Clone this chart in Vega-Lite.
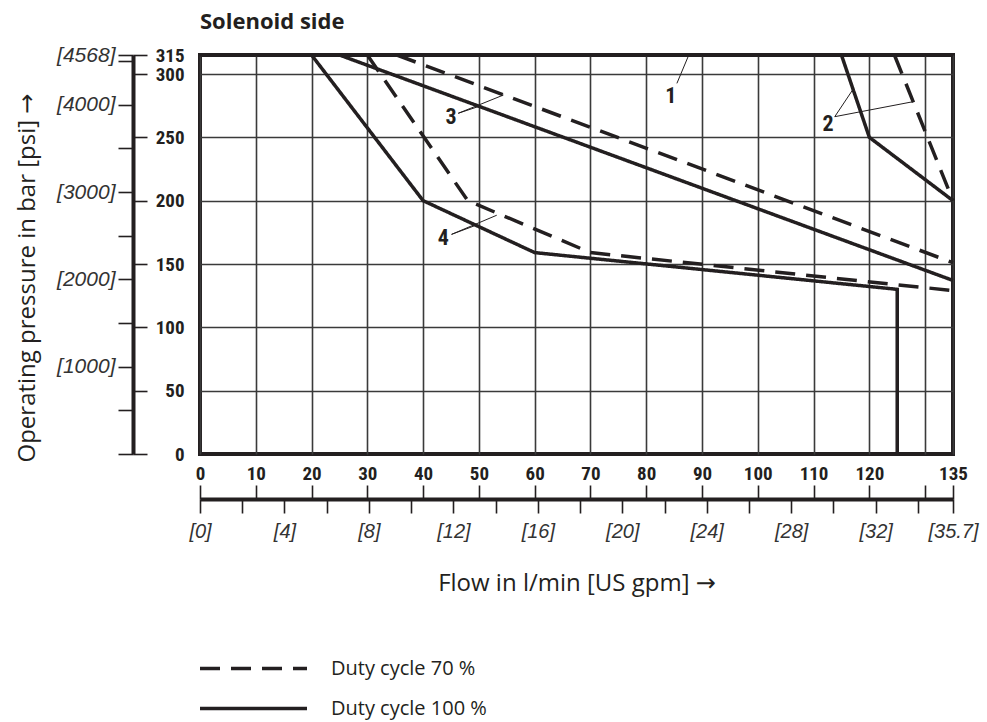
{
  "$schema": "https://vega.github.io/schema/vega-lite/v6.json",
  "width": 753,
  "height": 399,
  "autosize": "none",
  "padding": {"left": 200, "top": 55, "right": 34, "bottom": 268},
  "background": "white",
  "title": {"text": "Solenoid side", "anchor": "start", "frame": "group", "offset": 10, "font": "Open Sans", "fontSize": 22, "fontWeight": "bold", "color": "#231f20"},
  "config": {
    "view": {"stroke": "#231f20", "strokeWidth": 4},
    "axis": {"labelColor": "#231f20", "tickColor": "#231f20", "domainColor": "#231f20", "gridColor": "#3a3a3a", "gridOpacity": 1, "labelFlush": false, "labelOverlap": false, "labelBound": false}
  },
  "datasets": {
    "curves": [
      {"series": "1", "duty": "Duty cycle 100 %", "ord": 1, "flow": 0, "bar": 315},
      {"series": "1", "duty": "Duty cycle 100 %", "ord": 2, "flow": 135, "bar": 315},
      {"series": "2s", "duty": "Duty cycle 100 %", "ord": 1, "flow": 115, "bar": 315},
      {"series": "2s", "duty": "Duty cycle 100 %", "ord": 2, "flow": 120, "bar": 250},
      {"series": "2s", "duty": "Duty cycle 100 %", "ord": 3, "flow": 135, "bar": 200},
      {"series": "2d", "duty": "Duty cycle 70 %", "ord": 1, "flow": 124.5, "bar": 315},
      {"series": "2d", "duty": "Duty cycle 70 %", "ord": 2, "flow": 135, "bar": 200},
      {"series": "3s", "duty": "Duty cycle 100 %", "ord": 1, "flow": 25, "bar": 315},
      {"series": "3s", "duty": "Duty cycle 100 %", "ord": 2, "flow": 135, "bar": 137},
      {"series": "3d", "duty": "Duty cycle 70 %", "ord": 1, "flow": 35.3, "bar": 315},
      {"series": "3d", "duty": "Duty cycle 70 %", "ord": 2, "flow": 135, "bar": 151},
      {"series": "4s", "duty": "Duty cycle 100 %", "ord": 1, "flow": 20, "bar": 315},
      {"series": "4s", "duty": "Duty cycle 100 %", "ord": 2, "flow": 40, "bar": 200},
      {"series": "4s", "duty": "Duty cycle 100 %", "ord": 3, "flow": 60, "bar": 159},
      {"series": "4s", "duty": "Duty cycle 100 %", "ord": 4, "flow": 125, "bar": 130},
      {"series": "4s", "duty": "Duty cycle 100 %", "ord": 5, "flow": 125, "bar": 0},
      {"series": "4d", "duty": "Duty cycle 70 %", "ord": 1, "flow": 30, "bar": 315},
      {"series": "4d", "duty": "Duty cycle 70 %", "ord": 2, "flow": 48, "bar": 200},
      {"series": "4d", "duty": "Duty cycle 70 %", "ord": 3, "flow": 70, "bar": 159},
      {"series": "4d", "duty": "Duty cycle 70 %", "ord": 4, "flow": 135, "bar": 129}
    ],
    "leaders": [
      {"x1": 85.5, "y1": 292.6, "x2": 87.5, "y2": 313.6},
      {"x1": 113.8, "y1": 266.3, "x2": 117.0, "y2": 287.4},
      {"x1": 113.8, "y1": 266.3, "x2": 127.8, "y2": 278.1},
      {"x1": 46.3, "y1": 269, "x2": 50.4, "y2": 275},
      {"x1": 46.3, "y1": 269, "x2": 54.4, "y2": 283.4},
      {"x1": 45.1, "y1": 173.4, "x2": 49.6, "y2": 180.8},
      {"x1": 45.1, "y1": 173.4, "x2": 53.2, "y2": 188.5}
    ],
    "labels": [
      {"label": "1", "flow": 84.4, "bar": 282.6},
      {"label": "2", "flow": 112.6, "bar": 260.5},
      {"label": "3", "flow": 45, "bar": 265.7},
      {"label": "4", "flow": 43.6, "bar": 170.5}
    ]
  },
  "resolve": {"axis": {"x": "independent", "y": "independent"}, "scale": {"strokeDash": "independent"}, "legend": {"strokeDash": "independent"}},
  "layer": [
    {
      "data": {"name": "curves"},
      "transform": [{"filter": "datum.duty == 'Duty cycle 70 %'"}],
      "mark": {"type": "line", "strokeWidth": 3.5, "color": "#231f20", "strokeCap": "butt", "strokeJoin": "miter"},
      "encoding": {
        "x": {"field": "flow", "type": "quantitative", "scale": {"domain": [0, 135], "nice": false, "zero": false},
          "axis": {"orient": "bottom", "offset": 0, "values": [0, 10, 20, 30, 40, 50, 60, 70, 80, 90, 100, 110, 120, 130, 135], "grid": true, "gridWidth": 1.6, "ticks": false, "domain": false, "labelFont": "Roboto Condensed, Roboto, sans-serif", "labelFontWeight": "bold", "labelFontSize": 19, "labelPadding": 10, "labelExpr": "datum.value == 130 ? '' : datum.label", "title": null}},
        "y": {"field": "bar", "type": "quantitative", "scale": {"domain": [0, 315], "nice": false, "zero": false},
          "axis": {"orient": "left", "offset": 0, "values": [50, 100, 150, 200, 250, 300], "grid": true, "gridWidth": 1.6, "ticks": false, "domain": false, "labels": false, "title": null}},
        "strokeDash": {"field": "duty", "type": "nominal",
          "scale": {"domain": ["Duty cycle 70 %"], "range": [[20, 11]]},
          "legend": {"orient": "none", "legendX": -2, "legendY": 558, "title": null, "symbolType": "stroke", "symbolSize": 11449, "symbolStrokeWidth": 3.5, "symbolStrokeColor": "#231f20", "labelFont": "Open Sans", "labelFontSize": 20, "labelColor": "#231f20", "labelOffset": 22, "direction": "vertical"}},
        "detail": {"field": "series"},
        "order": {"field": "ord"}
      }
    },
    {
      "data": {"name": "curves"},
      "transform": [{"filter": "datum.duty == 'Duty cycle 100 %'"}],
      "mark": {"type": "line", "strokeWidth": 3.5, "color": "#231f20", "strokeCap": "butt", "strokeJoin": "miter"},
      "encoding": {
        "x": {"field": "flow", "type": "quantitative", "scale": {"domain": [0, 135], "nice": false, "zero": false}, "axis": null},
        "y": {"field": "bar", "type": "quantitative", "scale": {"domain": [0, 315], "nice": false, "zero": false}, "axis": null},
        "strokeDash": {"field": "duty", "type": "nominal",
          "scale": {"domain": ["Duty cycle 100 %"], "range": [[1, 0]]},
          "legend": {"orient": "none", "legendX": -2, "legendY": 598, "title": null, "symbolType": "stroke", "symbolSize": 11449, "symbolStrokeWidth": 3.5, "symbolStrokeColor": "#231f20", "labelFont": "Open Sans", "labelFontSize": 20, "labelColor": "#231f20", "labelOffset": 22, "direction": "vertical"}},
        "detail": {"field": "series"},
        "order": {"field": "ord"}
      }
    },
    {
      "data": {"name": "leaders"},
      "mark": {"type": "rule", "strokeWidth": 1, "color": "#231f20"},
      "encoding": {
        "x": {"field": "x1", "type": "quantitative", "scale": {"domain": [0, 135], "nice": false, "zero": false},
          "axis": {"orient": "top", "offset": -444, "values": [0, 10, 20, 30, 40, 50, 60, 70, 80, 90, 100, 110, 120, 130, 135], "grid": false, "ticks": true, "tickSize": 14, "tickWidth": 1.6, "labels": false, "domain": true, "domainWidth": 4, "title": null}},
        "x2": {"field": "x2"},
        "y": {"field": "y1", "type": "quantitative", "scale": {"domain": [0, 315], "nice": false, "zero": false},
          "axis": {"orient": "left", "offset": 67, "values": [0, 34.474, 68.947, 103.421, 137.895, 172.369, 206.842, 241.316, 275.79, 310.264, 315], "grid": false, "ticks": true, "tickSize": 15, "tickWidth": 1.6, "domain": true, "domainWidth": 4, "labelFont": "Liberation Sans", "labelFontStyle": "italic", "labelFontSize": 21, "labelPadding": 3, "labelColor": "#333333", "labelExpr": "datum.value > 314 ? '[4568]' : (datum.value > 1 && abs(datum.value*14.5038/1000 - round(datum.value*14.5038/1000)) < 0.01 ? '[' + round(datum.value*14.5038) + ']' : '')",
            "title": "Operating pressure in bar [psi] →", "titleFont": "Open Sans, DejaVu Sans", "titleFontSize": 24, "titleFontWeight": "normal", "titleColor": "#231f20", "titlePadding": 17, "titleAnchor": "start", "titleAlign": "left", "titleY": 407}},
        "y2": {"field": "y2"}
      }
    },
    {
      "data": {"name": "labels"},
      "mark": {"type": "text", "font": "Roboto Condensed, Roboto, sans-serif", "fontWeight": "bold", "fontSize": 22, "color": "#231f20", "align": "center", "baseline": "middle"},
      "encoding": {
        "x": {"field": "flow", "type": "quantitative", "scale": {"domain": [0, 135], "nice": false, "zero": false},
          "axis": {"orient": "bottom", "offset": 45, "values": [0, 7.5708, 15.1416, 22.7125, 30.2833, 37.8541, 45.4249, 52.9957, 60.5666, 68.1374, 75.7082, 83.279, 90.8498, 98.4207, 105.9915, 113.5623, 121.1331, 128.7039, 135], "grid": false, "ticks": true, "tickSize": 14, "tickWidth": 1.6, "domain": false, "labelFont": "Liberation Sans", "labelFontStyle": "italic", "labelFontSize": 20, "labelPadding": 8, "labelColor": "#333333", "labelExpr": "datum.value > 134 ? '[35.7]' : (round(datum.value/3.78541) % 4 == 0 ? '[' + round(datum.value/3.78541) + ']' : '')",
            "title": "Flow in l/min [US gpm] →", "titleFont": "Open Sans, DejaVu Sans", "titleFontSize": 24, "titleFontWeight": "normal", "titleColor": "#231f20", "titlePadding": 30}},
        "y": {"field": "bar", "type": "quantitative", "scale": {"domain": [0, 315], "nice": false, "zero": false},
          "axis": {"orient": "right", "offset": -820, "values": [0, 50, 100, 150, 200, 250, 300, 315], "grid": false, "ticks": true, "tickSize": 14, "tickWidth": 1.6, "domain": false, "labelFont": "Roboto Condensed, Roboto, sans-serif", "labelFontWeight": "bold", "labelFontSize": 19, "labelAlign": "right", "labelBaseline": "middle", "labelPadding": 37, "title": null}},
        "text": {"field": "label"}
      }
    }
  ]
}
